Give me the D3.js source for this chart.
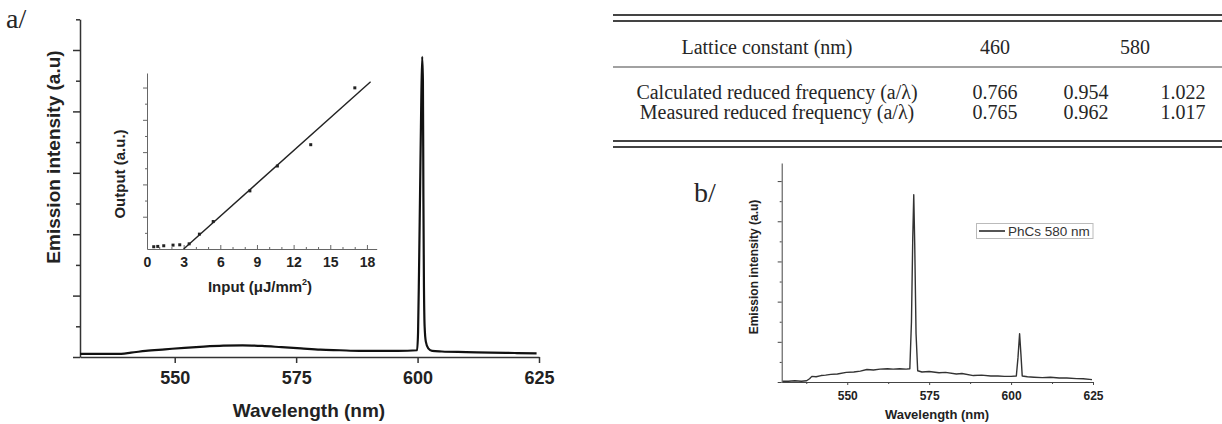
<!DOCTYPE html>
<html>
<head>
<meta charset="utf-8">
<script src="https://cdn.jsdelivr.net/npm/d3@7"></script>
<style>
  body { margin: 0; background: #fff; }
  svg { display: block; }
  .sans { font-family: "Liberation Sans", Arial, sans-serif; font-weight: bold; fill: #222; }
  .serif { font-family: "Liberation Serif", "Times New Roman", serif; fill: #262626; }
</style>
</head>
<body>
<svg id="main" width="1222" height="424"></svg>
<script>
// a/ : emission spectrum, lattice 460 nm (wavelength nm, intensity a.u.)
const wavelengthA = [530.5, 534, 538, 541, 544, 548, 552, 556, 560, 564, 568, 572, 576, 580, 584, 588, 592, 596,
  599.9, 600.1, 600.3, 600.5, 600.75, 600.95, 601.1, 601.2, 601.3, 601.45, 601.7, 602.2, 603, 605, 610, 615, 620, 624.5];
const intensityA = [0.05, 0.05, 0.05, 0.07, 0.10, 0.125, 0.15, 0.17, 0.185, 0.19, 0.18, 0.16, 0.14, 0.12, 0.11, 0.10, 0.10, 0.10,
  0.11, 0.4, 1.4, 2.6, 4.1, 4.89, 4.5, 2.6, 1.3, 0.5, 0.25, 0.14, 0.10, 0.09, 0.08, 0.07, 0.065, 0.06];

// inset : output vs pump input
const inputVals = [0.55, 0.88, 1.37, 2.13, 2.68, 3.45, 4.29, 5.42, 8.42, 10.67, 13.40, 17.01];
const outputVals = [0.07, 0.08, 0.10, 0.12, 0.13, 0.16, 0.46, 0.85, 1.80, 2.57, 3.23, 4.99];
const fitInput = [3.0, 18.3];
const fitOutput = [0, 5.18];

// b/ : PhCs 580 nm spectrum
const wavelengthB = [530.3, 532, 534, 536, 537.6, 538.5, 539.2, 540.5, 542, 543.4, 545, 547, 549.7, 552, 554, 556, 558, 560,
  562.3, 564, 566, 568, 569.1, 569.6, 570.0, 570.3, 570.6, 571.0, 571.5, 572.8, 575, 578, 580, 583.3, 585, 588.5, 591,
  593.8, 596, 598, 600, 601.6, 602.1, 602.6, 603.0, 603.4, 605, 607, 609.5, 612, 614.7, 617, 620, 622, 624.7];
const intensityB = [0.02, 0.02, 0.03, 0.02, 0.03, 0.08, 0.14, 0.13, 0.16, 0.17, 0.19, 0.20, 0.24, 0.25, 0.27, 0.31, 0.30, 0.32,
  0.33, 0.32, 0.33, 0.32, 0.33, 1.5, 3.6, 4.66, 3.4, 1.2, 0.28, 0.25, 0.26, 0.23, 0.24, 0.20, 0.21, 0.16, 0.17,
  0.15, 0.15, 0.14, 0.14, 0.15, 0.6, 1.2, 0.7, 0.15, 0.13, 0.12, 0.11, 0.12, 0.10, 0.10, 0.085, 0.08, 0.06];
const legendLabel = 'PhCs 580 nm';

// tick values
const specTicks = [550, 575, 600, 625];
const specMinorB = [537.5, 562.5, 587.5, 612.5];
const intMajor = [0, 1, 2, 3, 4, 5];
const intMinor = [0.5, 1.5, 2.5, 3.5, 4.5, 5.5];
const insetXTicks = [0, 3, 6, 9, 12, 15, 18];
const insetXMinor = [1, 2, 4, 5, 7, 8, 10, 11, 13, 14, 16, 17];
const insetYTicks = [1, 2, 3, 4, 5];
const insetYMinor = [0.5, 1.5, 2.5, 3.5, 4.5];

// table
const tableHead = ['Lattice constant (nm)', '460', '580'];
const rowLabels = ['Calculated reduced frequency (a/λ)', 'Measured reduced frequency (a/λ)'];
const calcVals = ['0.766', '0.954', '1.022'];
const measVals = ['0.765', '0.962', '1.017'];

const svg = d3.select('#main');

function styleAxis(g, width, color) {
	g.selectAll('path, line').attr('stroke', color).attr('stroke-width', width);
	g.attr('font-family', null).attr('font-size', null);
	g.selectAll('text').attr('fill', '#222');
}

// ---------- panel a ----------
let xA = d3.scaleLinear().domain([530.5, 625]).range([80, 539]);
let yA = d3.scaleLinear().domain([0, 5.5]).range([357, 19.3]);

let gA = svg.append('g');

gA.append('g')
	.attr('transform', 'translate(80,0)')
	.call(d3.axisLeft(yA).tickValues(intMajor).tickSize(7).tickSizeOuter(0).tickFormat(''))
	.call(g => styleAxis(g, 1.5, '#333'));
gA.append('g')
	.attr('transform', 'translate(80,0)')
	.call(d3.axisLeft(yA).tickValues(intMinor).tickSize(4).tickSizeOuter(0).tickFormat(''))
	.call(g => g.select('.domain').remove())
	.call(g => styleAxis(g, 1.5, '#333'));

gA.append('g')
	.attr('class', 'sans')
	.attr('transform', 'translate(0,357)')
	.call(d3.axisBottom(xA).tickValues(specTicks).tickSize(6).tickSizeOuter(0).tickPadding(8))
	.call(g => styleAxis(g, 1.5, '#333'))
	.selectAll('text').attr('font-size', 18);

gA.append('path')
	.datum(d3.zip(wavelengthA, intensityA))
	.attr('fill', 'none')
	.attr('stroke', '#111')
	.attr('stroke-width', 2.2)
	.attr('stroke-linejoin', 'round')
	.attr('d', d3.line().x(d => xA(d[0])).y(d => yA(d[1])).curve(d3.curveMonotoneX));

gA.append('text').attr('class', 'sans')
	.attr('transform', 'translate(60,157) rotate(-90)')
	.attr('text-anchor', 'middle').attr('font-size', 19)
	.text('Emission intensity (a.u)');
gA.append('text').attr('class', 'sans')
	.attr('x', 309).attr('y', 417)
	.attr('text-anchor', 'middle').attr('font-size', 19)
	.text('Wavelength (nm)');

svg.append('text').attr('class', 'serif')
	.attr('x', 6).attr('y', 28).attr('font-size', 28)
	.text('a/');

// ---------- inset ----------
let xI = d3.scaleLinear().domain([0, 18.8]).range([147, 376.7]);
let yI = d3.scaleLinear().domain([0, 5.45]).range([249, 73]);

let gI = svg.append('g');

gI.append('g')
	.attr('transform', 'translate(147,0)')
	.call(d3.axisLeft(yI).tickValues(insetYTicks).tickSize(4).tickSizeOuter(0).tickFormat(''))
	.call(g => styleAxis(g, 1, '#666'));
gI.append('g')
	.attr('transform', 'translate(147,0)')
	.call(d3.axisLeft(yI).tickValues(insetYMinor).tickSize(2).tickSizeOuter(0).tickFormat(''))
	.call(g => g.select('.domain').remove())
	.call(g => styleAxis(g, 1, '#666'));

gI.append('g')
	.attr('class', 'sans')
	.attr('transform', 'translate(0,249)')
	.call(d3.axisBottom(xI).tickValues(insetXTicks).tickSizeInner(-4).tickSizeOuter(0).tickPadding(8))
	.call(g => styleAxis(g, 1, '#666'))
	.selectAll('text').attr('font-size', 14);
gI.append('g')
	.attr('transform', 'translate(0,249)')
	.call(d3.axisBottom(xI).tickValues(insetXMinor).tickSizeInner(-2).tickSizeOuter(0).tickFormat(''))
	.call(g => g.select('.domain').remove())
	.call(g => styleAxis(g, 1, '#666'));

gI.append('path')
	.datum(d3.zip(fitInput, fitOutput))
	.attr('fill', 'none')
	.attr('stroke', '#222')
	.attr('stroke-width', 1.4)
	.attr('d', d3.line().x(d => xI(d[0])).y(d => yI(d[1])));

gI.selectAll('.pt')
	.data(d3.zip(inputVals, outputVals))
	.enter()
	.append('rect')
	.attr('class', 'pt')
	.attr('x', d => xI(d[0]) - 1.5)
	.attr('y', d => yI(d[1]) - 1.5)
	.attr('width', 3)
	.attr('height', 3)
	.attr('fill', '#222');

gI.append('text').attr('class', 'sans')
	.attr('transform', 'translate(125,174) rotate(-90)')
	.attr('text-anchor', 'middle').attr('font-size', 15).attr('fill', '#333')
	.text('Output (a.u.)');
let inLab = gI.append('text').attr('class', 'sans')
	.attr('x', 260).attr('y', 292)
	.attr('text-anchor', 'middle').attr('font-size', 15).attr('fill', '#333');
inLab.append('tspan').text('Input (μJ/mm');
inLab.append('tspan').attr('font-size', 9).attr('dy', -7).text('2');
inLab.append('tspan').attr('dy', 7).text(')');

// ---------- table ----------
let colX = [767, 995, 1135];
let valX = [995, 1086, 1183];
let gT = svg.append('g').attr('class', 'serif').attr('font-size', 20);

[[15, 1.8], [21, 1.8], [67, 1.2], [141, 1.8], [147, 1.8]].forEach(r => {
	gT.append('line')
		.attr('x1', 613).attr('x2', 1222)
		.attr('y1', r[0]).attr('y2', r[0])
		.attr('stroke', '#444').attr('stroke-width', r[1]);
});

gT.selectAll('.head')
	.data(tableHead)
	.enter()
	.append('text')
	.attr('x', (d, i) => colX[i])
	.attr('y', 53.5)
	.attr('text-anchor', 'middle')
	.text(d => d);

[calcVals, measVals].forEach((vals, r) => {
	let y = r == 0 ? 98.6 : 119.4;
	gT.append('text')
		.attr('x', 777).attr('y', y)
		.attr('text-anchor', 'middle')
		.text(rowLabels[r]);
	gT.selectAll('.v' + r)
		.data(vals)
		.enter()
		.append('text')
		.attr('x', (d, i) => valX[i])
		.attr('y', y)
		.attr('text-anchor', 'middle')
		.text(d => d);
});

// ---------- panel b ----------
let xB = d3.scaleLinear().domain([530, 625]).range([781.7, 1093]);
let yB = d3.scaleLinear().domain([0, 5.45]).range([382, 163]);

let gB = svg.append('g');

gB.append('g')
	.attr('transform', 'translate(781.7,0)')
	.call(d3.axisLeft(yB).tickValues(intMajor).tickSize(4).tickSizeOuter(0).tickFormat(''))
	.call(g => styleAxis(g, 1, '#444'));
gB.append('g')
	.attr('transform', 'translate(781.7,0)')
	.call(d3.axisLeft(yB).tickValues(intMinor.slice(0, 5)).tickSize(2).tickSizeOuter(0).tickFormat(''))
	.call(g => g.select('.domain').remove())
	.call(g => styleAxis(g, 1, '#444'));

gB.append('g')
	.attr('class', 'sans')
	.attr('transform', 'translate(0,382)')
	.call(d3.axisBottom(xB).tickValues(specTicks).tickSize(3).tickSizeOuter(0).tickPadding(6))
	.call(g => styleAxis(g, 1, '#444'))
	.selectAll('text').attr('font-size', 12);
gB.append('g')
	.attr('transform', 'translate(0,382)')
	.call(d3.axisBottom(xB).tickValues(specMinorB).tickSize(2).tickSizeOuter(0).tickFormat(''))
	.call(g => g.select('.domain').remove())
	.call(g => styleAxis(g, 1, '#444'));

gB.append('path')
	.datum(d3.zip(wavelengthB, intensityB))
	.attr('fill', 'none')
	.attr('stroke', '#333')
	.attr('stroke-width', 1.4)
	.attr('stroke-linejoin', 'round')
	.attr('d', d3.line().x(d => xB(d[0])).y(d => yB(d[1])));

gB.append('text').attr('class', 'sans')
	.attr('transform', 'translate(758,267) rotate(-90)')
	.attr('text-anchor', 'middle').attr('font-size', 12)
	.text('Emission intensity (a.u)');
gB.append('text').attr('class', 'sans')
	.attr('x', 937).attr('y', 419)
	.attr('text-anchor', 'middle').attr('font-size', 13)
	.text('Wavelength (nm)');

// legend
let gL = gB.append('g');
gL.append('rect')
	.attr('x', 976.5).attr('y', 223.5).attr('width', 116.5).attr('height', 15)
	.attr('fill', '#fff').attr('stroke', '#bbb').attr('stroke-width', 1);
gL.append('line')
	.attr('x1', 979).attr('x2', 1005).attr('y1', 231).attr('y2', 231)
	.attr('stroke', '#555').attr('stroke-width', 2);
gL.append('text')
	.attr('x', 1008).attr('y', 236)
	.attr('font-family', '"Liberation Sans", Arial, sans-serif')
	.attr('font-size', 13.5).attr('fill', '#333')
	.text(legendLabel);

svg.append('text').attr('class', 'serif')
	.attr('x', 694).attr('y', 202).attr('font-size', 28)
	.text('b/');
</script>
</body>
</html>
